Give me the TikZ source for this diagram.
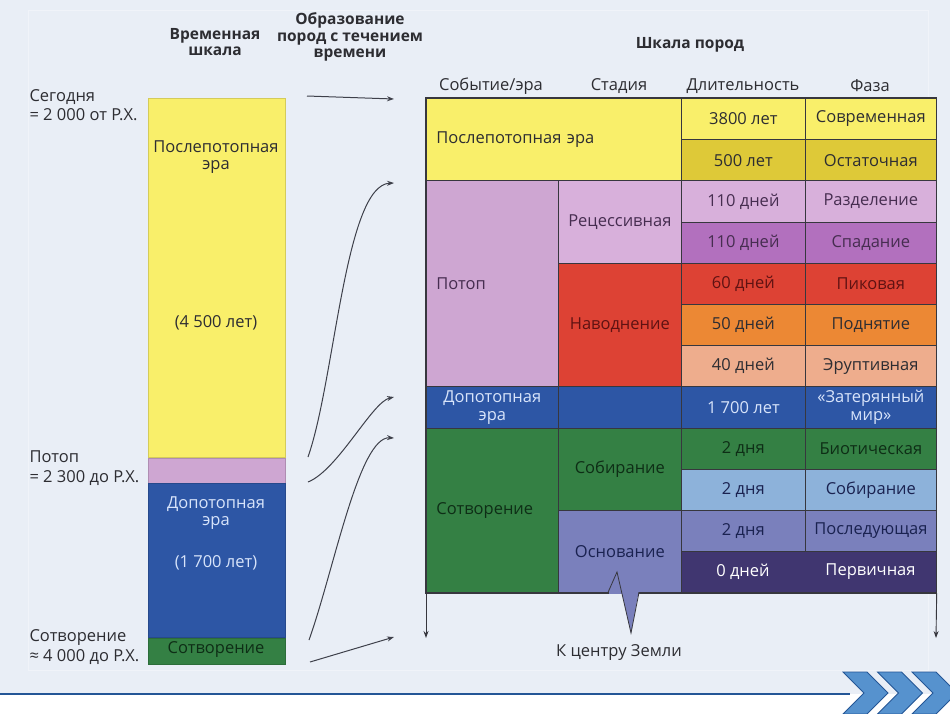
\documentclass[tikz,border=0pt]{standalone}
\usepackage{fontspec}
\setmainfont{Open Sans}
\usepackage{tikz}
\usetikzlibrary{arrows.meta,positioning}
\definecolor{geobg}{RGB}{233,238,246}
\definecolor{geoyellow}{RGB}{249,239,106}
\definecolor{geoyellowD}{RGB}{222,201,56}
\definecolor{geolilac}{RGB}{206,166,210}
\definecolor{geolilacL}{RGB}{216,176,219}
\definecolor{geopurple}{RGB}{178,112,190}
\definecolor{geored}{RGB}{221,66,52}
\definecolor{georange}{RGB}{236,136,52}
\definecolor{geosalmon}{RGB}{238,173,141}
\definecolor{geoblue}{RGB}{45,86,165}
\definecolor{geogreen}{RGB}{52,128,68}
\definecolor{geosky}{RGB}{141,178,218}
\definecolor{geolav}{RGB}{122,128,188}
\definecolor{geonight}{RGB}{64,54,112}
\definecolor{geoline}{RGB}{55,55,62}
\definecolor{geotext}{RGB}{45,45,50}
\definecolor{geoplum}{RGB}{70,45,80}
\definecolor{geomaroon}{RGB}{95,18,18}
\definecolor{geodkgreen}{RGB}{14,46,22}
\definecolor{geonavy}{RGB}{26,34,80}
\definecolor{geopale}{RGB}{216,228,250}
\definecolor{geoarrow}{RGB}{62,64,74}
\definecolor{geochev}{RGB}{86,146,206}
\definecolor{geochevD}{RGB}{36,86,150}
\newcommand{\cellfont}{\fontsize{16.5}{17.5}\selectfont}
\newcommand{\headfont}{\fontsize{15.5}{16.5}\selectfont\bfseries}
\newcommand{\sidefont}{\fontsize{16.5}{19.5}\selectfont}

\begin{document}
\begin{tikzpicture}[x=1pt, y=-1pt, >={Stealth[length=7pt,width=5pt]},
  cellbox/.style={draw=geoline, line width=0.7pt, inner sep=0pt, anchor=north west,
    align=center, font=\cellfont, text=geotext},
  leftcell/.style={cellbox, align=left, inner xsep=10pt},
  barseg/.style={draw=#1!85!black, fill=#1, line width=0.5pt, inner sep=0pt,
    minimum width=137pt},
  bartext/.style={font=\cellfont, align=center, text=geotext},
  headtext/.style={font=\headfont, text=geotext, align=center},
  coltext/.style={font=\cellfont, text=geotext},
  sidetext/.style={font=\sidefont, text=geotext, align=left, anchor=west},
  flow/.style={->, geoarrow, line width=1pt},
  chev/.style={fill=geochev, draw=geochevD, line width=0.8pt}]
  \useasboundingbox (0,0) rectangle (950,713);
  \clip (0,0) rectangle (950,713);
  \fill[geobg] (0,0) rectangle (950,694);
  \draw[white, opacity=0.35, line width=0.8pt] (28,10) rectangle (928,670);

  % headings
  \node[headtext] (hscale) at (215,42) {Временная\\шкала};
  \node[headtext] (hform) at (350,37) {Образование\\пород с течением\\времени};
  \node[headtext] (hrock) at (690,45) {Шкала пород};
  \node[coltext] (hevent) at (491,86) {Событие/эра};
  \node[coltext] (hstage) at (619,86) {Стадия};
  \node[coltext] (hdur) at (743,86) {Длительность};
  \node[coltext] (hphase) at (870,86) {Фаза};

  % time scale bar
  \node[barseg=geoyellow, minimum height=359pt, anchor=north west] (barpost) at (148,98) {};
  \node[barseg=geolilac, minimum height=25pt, below=0pt of barpost] (barflood) {};
  \node[barseg=geoblue, minimum height=154pt, below=0pt of barflood] (barpre) {};
  \node[barseg=geogreen, minimum height=26pt, below=0pt of barpre] (barcre) {};
  \node[bartext] (postname) at (216,157) {Послепотопная\\эра};
  \node[bartext] (postyears) at (216,323) {(4 500 лет)};
  \node[bartext, text=geopale] (prename) at (216,513) {Допотопная\\эра};
  \node[bartext, text=geopale] (preyears) at (216,563) {(1 700 лет)};
  \node[bartext, text=geodkgreen] (crename) at (216,649) {Сотворение};

  \node[sidetext] (ltoday) at (26,105) {Сегодня\\= 2 000 от Р.Х.};
  \node[sidetext] (lflood) at (26,468) {Потоп\\= 2 300 до Р.Х.};
  \node[sidetext] (lcreat) at (26,647) {Сотворение\\≈ 4 000 до Р.Х.};

  % event / era column
  \node[leftcell, fill=geoyellow, minimum height=82.4pt, text width=235pt] (postera) at (426,98) {Послепотопная эра};
  \node[leftcell, fill=geolilac, text=geoplum, minimum height=206pt, text width=112pt] (flood) at (426,180.4) {Потоп};
  \node[cellbox, fill=geoblue, text=geopale, minimum width=132pt, minimum height=41.2pt] (preera) at (426,386.4) {Допотопная\\эра};
  \node[leftcell, fill=geogreen, text=geodkgreen, minimum height=164.8pt, text width=112pt] (creation) at (426,427.6) {Сотворение};

  % stage column
  \node[cellbox, fill=geolilacL, text=geoplum, minimum width=123pt, minimum height=82.4pt] (recess) at (558,180.4) {Рецессивная};
  \node[cellbox, fill=geored, text=geomaroon, minimum width=123pt, minimum height=123.6pt] (inund) at (558,262.8) {Наводнение};
  \node[cellbox, fill=geoblue, minimum width=123pt, minimum height=41.2pt] (prestage) at (558,386.4) {};
  \node[cellbox, fill=geogreen, text=geodkgreen, minimum width=123pt, minimum height=82.4pt] (gather) at (558,427.6) {Собирание};
  \node[cellbox, fill=geolav, text=geonavy, minimum width=123pt, minimum height=82.4pt] (found) at (558,510) {Основание};

  % duration and phase
  \foreach \y/\fc/\tc/\dur/\ph [count=\i from 0] in {
      98/geoyellow/geotext/3800 лет/Современная,
      139.2/geoyellowD/geotext/500 лет/Остаточная,
      180.4/geolilacL/geoplum/110 дней/Разделение,
      221.6/geopurple/geoplum/110 дней/Спадание,
      262.8/geored/geomaroon/60 дней/Пиковая,
      304/georange/geotext/50 дней/Поднятие,
      345.2/geosalmon/geotext/40 дней/Эруптивная,
      386.4/geoblue/geopale/1 700 лет/{«Затерянный\\мир»},
      427.6/geogreen/geodkgreen/2 дня/Биотическая,
      468.8/geosky/geonavy/2 дня/Собирание,
      510/geolav/geonavy/2 дня/Последующая} {
    \node[cellbox, fill=\fc, text=\tc, minimum width=124pt, minimum height=41.2pt] (dur\i) at (681,\y) {\dur};
    \node[cellbox, fill=\fc, text=\tc, minimum width=131pt, minimum height=41.2pt] (ph\i) at (805,\y) {\ph};
  }
  \node[cellbox, fill=geonight, minimum width=255pt, minimum height=41.2pt] (lastrow) at (681,551.2) {};
  \node[coltext, text=white] (dur11) at (743,571.8) {0 дней};
  \node[coltext, text=white] (ph11) at (870.5,571.8) {Первичная};
  \draw[geoline, line width=1.3pt] (postera.north west) rectangle (lastrow.south east);

  % towards the centre of the Earth
  \coordinate (downL) at (426,638);
  \coordinate (downR) at (936,638);
  \draw[->, geoline, line width=0.9pt] (creation.south west) -- (downL);
  \draw[->, geoline, line width=0.9pt] (lastrow.south east) -- (downR);
  \fill[geolav] (608,590) -- (617,572) -- (631,633) -- (639,590) -- cycle;
  \fill[geolav] (609,591) rectangle (638,594);
  \draw[geoline, line width=0.8pt, line join=miter] (608,592.4) -- (617,572) -- (631,633) -- (639,592.4);
  \node[coltext] (earthc) at (619,652) {К центру Земли};

  % rock formation arrows
  \coordinate (s0) at (307,96);   \coordinate (e0) at (394,99);
  \coordinate (s1) at (308,457);  \coordinate (e1) at (394,183);
  \coordinate (s2) at (308,482);  \coordinate (e2) at (394,397);
  \coordinate (s3) at (309,640);  \coordinate (e3) at (394,438);
  \coordinate (s4) at (310,662);  \coordinate (e4) at (394,637);
  \draw[flow] (s0) -- (e0);
  \draw[flow] (s1) .. controls +(27,-77) and +(-49,2) .. (e1);
  \draw[flow] (s2) .. controls +(30,-12) and +(-22,5) .. (e2);
  \draw[flow] (s3) .. controls +(25,-70) and +(-35,-2) .. (e3);
  \draw[flow] (s4) -- (e4);

  % footer
  \fill[white] (0,694) rectangle (950,713);
  \draw[geochevD, line width=2.5pt] (0,694) -- (850,694);
  \foreach \cx in {843,877.5,912}
    \filldraw[chev] (\cx,672) -- ++(24,0) -- ++(21,21) -- ++(-21,21) -- ++(-24,0) -- ++(21,-21) -- cycle;
\end{tikzpicture}
\end{document}
